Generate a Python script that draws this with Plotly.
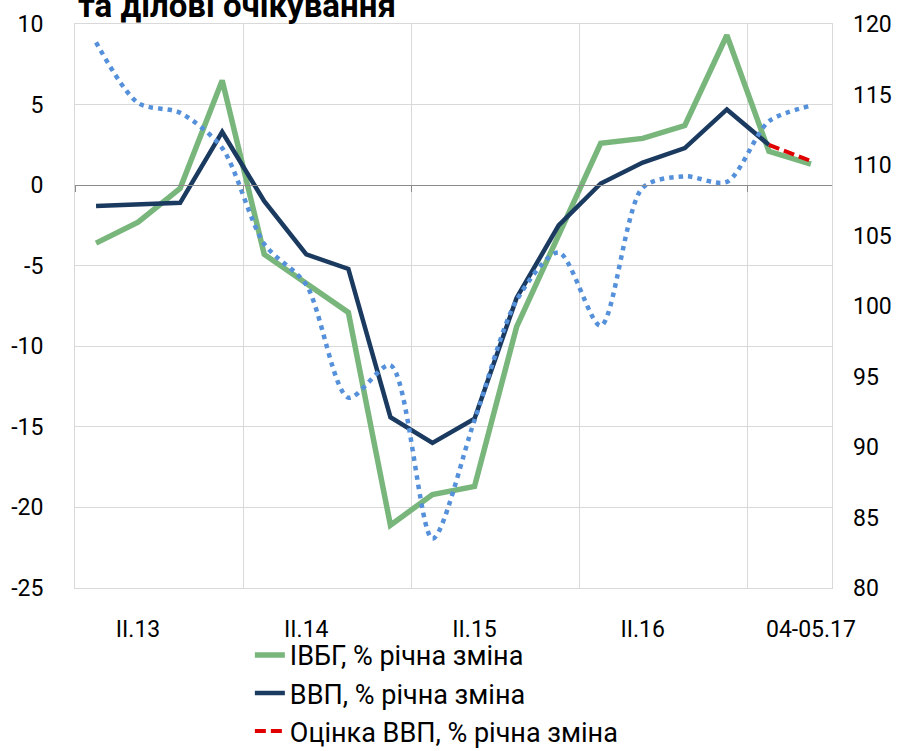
import plotly.graph_objects as go

categories = ["I.13", "II.13", "III.13", "IV.13",
              "I.14", "II.14", "III.14", "IV.14",
              "I.15", "II.15", "III.15", "IV.15",
              "I.16", "II.16", "III.16", "IV.16",
              "I.17", "04-05.17"]
tick_labels = ["II.13", "II.14", "II.15", "II.16", "04-05.17"]

left_ticks = [-25, -20, -15, -10, -5, 0, 5, 10]
left_tick_text = ["-25", "-20", "-15", "-10", "-5", "0", "5", "10"]
right_ticks = [80, 85, 90, 95, 100, 105, 110, 115, 120]

ivbg = [-3.6, -2.3, -0.2, 6.5, -4.3, -6.1, -7.9, -21.1, -19.2, -18.7,
        -8.8, -3.1, 2.6, 2.9, 3.7, 9.3, 2.1, 1.3]
gdp = [-1.3, -1.2, -1.1, 3.3, -1.0, -4.3, -5.2, -14.4, -16.0, -14.5,
       -7.0, -2.5, 0.1, 1.4, 2.3, 4.7, 2.5, None]
gdp_est = [None] * 16 + [2.5, 1.5]
expectations = [118.7, 114.4, 113.7, 111.2, 104.4, 101.5, 93.5, 95.8, 83.5,
                91.9, 100.4, 103.8, 98.6, 108.4, 109.2, 108.8, 113.1, 114.2]

names = ["ІВБГ, % річна зміна", "ВВП, % річна зміна", "Оцінка ВВП, % річна зміна"]
title_text = "та ділові очікування"

FONT = "Roboto, 'Noto Sans', sans-serif"
GRID = "#d9d9d9"

fig = go.Figure()
fig.add_trace(go.Scatter(x=categories, y=ivbg, name=names[0], mode="lines",
                         line=dict(color="#79b67c", width=5.5)))
fig.add_trace(go.Scatter(x=categories, y=gdp, name=names[1], mode="lines",
                         line=dict(color="#1b3a60", width=4.5)))
fig.add_trace(go.Scatter(x=categories, y=gdp_est, name=names[2], mode="lines",
                         line=dict(color="#e00000", width=4, dash="11px,5px")))
fig.add_trace(go.Scatter(x=categories, y=expectations, name="Ділові очікування",
                         mode="lines", xaxis="x2", yaxis="y2", showlegend=False,
                         line=dict(color="#5590da", width=4.5, dash="4.5px,5px",
                                   shape="spline", smoothing=0.8)))

rng = [-0.5, len(categories) - 0.5]
fig.update_layout(
    width=902, height=751,
    margin=dict(l=75, r=70, t=24, b=163, autoexpand=False),
    plot_bgcolor="white", paper_bgcolor="white",
    font=dict(family=FONT, size=23, color="#000000"),
    showlegend=True,
    legend=dict(x=0.231, y=-0.076, xanchor="left", yanchor="top",
                orientation="v", bgcolor="rgba(0,0,0,0)",
                font=dict(size=27), itemwidth=30, tracegroupgap=0),
    xaxis=dict(type="category", categoryorder="array", categoryarray=categories,
               range=rng, tickmode="array", tickvals=tick_labels,
               ticks="", showgrid=False, showline=True, mirror=True,
               linecolor=GRID, linewidth=1, zeroline=False,
               ticklabelstandoff=20),
    xaxis2=dict(type="category", categoryorder="array", categoryarray=categories,
                range=rng, overlaying="x", anchor="free", position=25 / 35,
                tickmode="array", tickvals=[-0.5, 3.5, 7.5, 11.5, 15.5],
                showticklabels=False, ticks="outside", ticklen=6,
                tickcolor="#8c8c8c", tickwidth=1,
                showgrid=True, gridcolor=GRID, gridwidth=1,
                showline=True, linecolor="#8c8c8c", linewidth=1.3),
    yaxis=dict(range=[-25, 10], tickmode="array", tickvals=left_ticks,
               ticktext=left_tick_text,
               showgrid=True, gridcolor=GRID, gridwidth=1, zeroline=False,
               showline=True, linecolor=GRID, mirror=True, ticks="",
               ticklabelstandoff=26),
    yaxis2=dict(range=[80, 120], tickmode="array", tickvals=right_ticks,
                overlaying="y", side="right", anchor="x", showgrid=False,
                zeroline=False, showline=False, ticks="",
                ticklabelstandoff=20),
    annotations=[dict(text="<b>" + title_text + "</b>", xref="paper", yref="paper",
                      x=0.0, y=1.0, xanchor="left", yanchor="bottom",
                      xshift=1, yshift=-3, showarrow=False,
                      font=dict(size=33, family=FONT, color="#000000"))],
)

fig.write_html("out.html")
